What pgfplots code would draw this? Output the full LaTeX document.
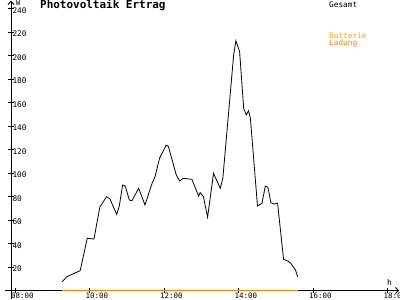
\documentclass[border=0pt]{standalone}
\usepackage{pgfplots}
\pgfplotsset{compat=1.18}
\usetikzlibrary{arrows.meta}
\usepackage{fontspec}
\setmonofont{DejaVu Sans Mono}
\definecolor{batt}{RGB}{255,176,0}
\definecolor{lad}{RGB}{255,128,0}
\begin{document}
\begin{tikzpicture}
\begin{axis}[at={(0,0)}, anchor=south west,
  scale only axis, width=388bp, height=289.5bp,
  xmin=7.893, xmax=18.309, ymin=0, ymax=246.4,
  axis lines=left, clip=false,
  axis line style={line width=0.8bp, -{Straight Barb[length=3bp,width=6bp]}},
  xtick={8,10,...,18}, xticklabels={08:00,10:00,12:00,14:00,16:00,18:00},
  ytick={20,40,...,240},
  tick align=center, major tick length=5bp,
  tick style={black, line width=0.8bp},
  /pgf/number format/assume math mode=true,
  xticklabel style={anchor=north west, inner sep=0bp, xshift=-4bp, yshift=0.5bp, font=\ttfamily\fontsize{7.5}{8}\selectfont},
  yticklabel style={anchor=west, xshift=0.5bp, yshift=-2bp, font=\ttfamily\fontsize{7.8}{8}\selectfont},
]
\addplot[black, line width=0.8bp] coordinates {
(9.27,7.5) (9.39,11.7) (9.75,16.9) (9.94,44.4) (10.12,43.8) (10.28,71.3)
(10.46,79.8) (10.55,77.9) (10.73,64.8) (10.80,71.9) (10.89,89.8) (10.96,88.9)
(11.07,77) (11.14,76.4) (11.32,87) (11.49,72.8) (11.68,91.2) (11.76,96.9)
(11.88,112.5) (12.06,123.8) (12.12,122.4) (12.33,98.3) (12.42,93.2) (12.52,95.5)
(12.75,94.6) (12.93,80.4) (12.97,83.4) (13.06,79.8) (13.17,62.3) (13.33,99.7)
(13.51,87) (13.58,95.5) (13.87,200.4) (13.93,212.6) (14.03,203.2) (14.14,155)
(14.21,149.4) (14.27,153) (14.32,146.5) (14.51,71.9) (14.63,74.2) (14.72,88.9)
(14.79,87.8) (14.87,74.7) (14.96,73.6) (15.05,74.2) (15.21,26.6) (15.32,25.1)
(15.39,23.7) (15.53,17.4) (15.59,11.7)
};
\addplot[lad, line width=1.2bp] coordinates {(9.27,0) (15.59,0)};
\end{axis}
\draw[line width=0.8bp] (-6bp,0) -- (0,0);
\draw[line width=0.8bp] (0,0) -- (0,-8bp);
\node[anchor=base west, font=\ttfamily\bfseries\fontsize{11}{12}\selectfont, inner sep=0] at (29bp,281.5bp) {Photovoltaik Ertrag};
\node[anchor=base west, font=\ttfamily\fontsize{7}{7}\selectfont, inner sep=0] at (5bp,285bp) {W};
\node[anchor=base west, font=\ttfamily\fontsize{8}{8}\selectfont, inner sep=0] at (376bp,5.5bp) {h};
\node[anchor=base west, font=\ttfamily\fontsize{7.8}{8}\selectfont, inner sep=0] at (318bp,283.2bp) {Gesamt};
\node[anchor=base west, font=\ttfamily\fontsize{7.8}{8}\selectfont, inner sep=0, text=batt] at (318bp,251.5bp) {Batterie};
\node[anchor=base west, font=\ttfamily\fontsize{7.8}{8}\selectfont, inner sep=0, text=lad] at (318bp,245bp) {Ladung};
\pgfresetboundingbox
\path (-11bp,-9.5bp) rectangle (389bp,290.5bp);
\end{tikzpicture}
\end{document}
